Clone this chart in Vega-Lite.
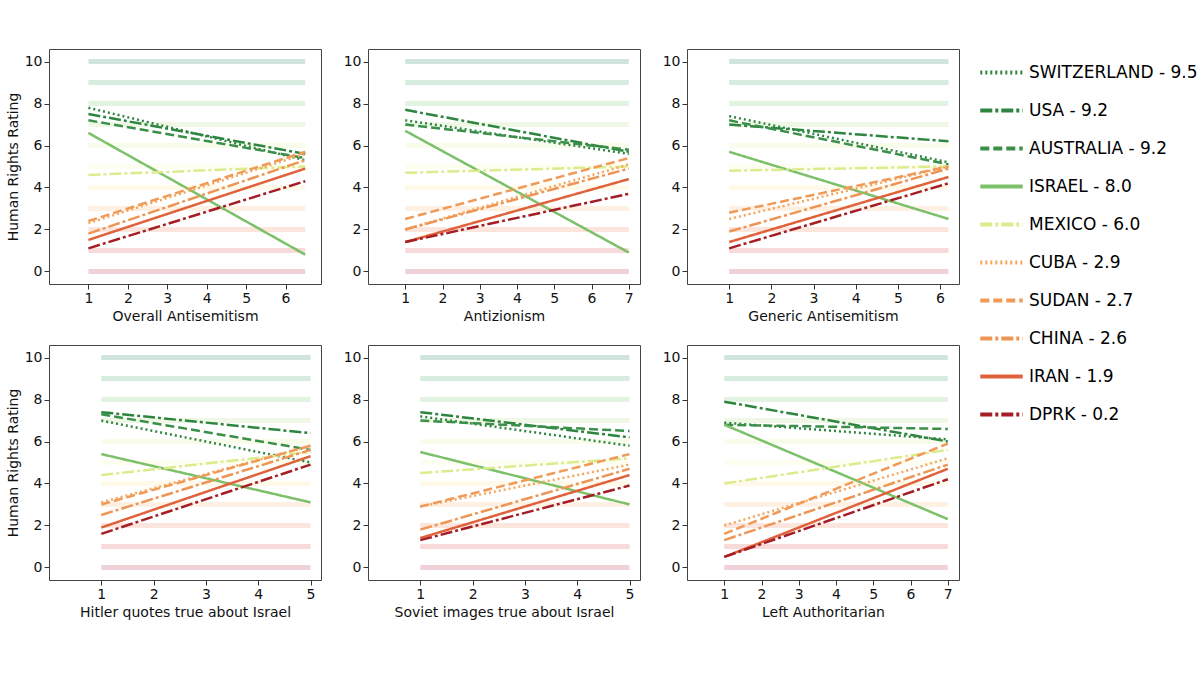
{
  "$schema": "https://vega.github.io/schema/vega-lite/v6.json",
  "background": "white",
  "padding": {"left": 5, "top": 48, "right": 5, "bottom": 5},
  "config": {
    "font": "DejaVu Sans",
    "view": {"stroke": "#444"},
    "axis": {"grid": false, "labelFontSize": 14, "titleFontSize": 14, "titleFontWeight": "normal", "labelColor": "#111", "titleColor": "#111", "domain": false, "tickColor": "#333"},
    "concat": {"spacing": 20},
    "legend": {"labelFontSize": 17, "symbolType": "stroke", "symbolSize": 1800, "symbolStrokeWidth": 4, "rowPadding": 6, "title": null, "orient": "right", "offset": 18, "padding": 0, "labelLimit": 300}
  },
  "resolve": {"scale": {"color": "shared", "strokeDash": "shared"}},
  "datasets": {
    "levels": [
      {"level": 0}, {"level": 1}, {"level": 2}, {"level": 3}, {"level": 4}, {"level": 5},
      {"level": 6}, {"level": 7}, {"level": 8}, {"level": 9}, {"level": 10}
    ],
    "lines": [
      {"panel": 1, "label": "SWITZERLAND - 9.5", "x": 1, "y": 7.8}, {"panel": 1, "label": "SWITZERLAND - 9.5", "x": 6.5, "y": 5.3},
      {"panel": 1, "label": "USA - 9.2", "x": 1, "y": 7.5}, {"panel": 1, "label": "USA - 9.2", "x": 6.5, "y": 5.6},
      {"panel": 1, "label": "AUSTRALIA - 9.2", "x": 1, "y": 7.2}, {"panel": 1, "label": "AUSTRALIA - 9.2", "x": 6.5, "y": 5.4},
      {"panel": 1, "label": "ISRAEL - 8.0", "x": 1, "y": 6.6}, {"panel": 1, "label": "ISRAEL - 8.0", "x": 6.5, "y": 0.8},
      {"panel": 1, "label": "MEXICO - 6.0", "x": 1, "y": 4.6}, {"panel": 1, "label": "MEXICO - 6.0", "x": 6.5, "y": 5.0},
      {"panel": 1, "label": "CUBA - 2.9", "x": 1, "y": 2.3}, {"panel": 1, "label": "CUBA - 2.9", "x": 6.5, "y": 5.6},
      {"panel": 1, "label": "SUDAN - 2.7", "x": 1, "y": 2.4}, {"panel": 1, "label": "SUDAN - 2.7", "x": 6.5, "y": 5.7},
      {"panel": 1, "label": "CHINA - 2.6", "x": 1, "y": 1.8}, {"panel": 1, "label": "CHINA - 2.6", "x": 6.5, "y": 5.3},
      {"panel": 1, "label": "IRAN - 1.9", "x": 1, "y": 1.5}, {"panel": 1, "label": "IRAN - 1.9", "x": 6.5, "y": 4.9},
      {"panel": 1, "label": "DPRK - 0.2", "x": 1, "y": 1.1}, {"panel": 1, "label": "DPRK - 0.2", "x": 6.5, "y": 4.3},

      {"panel": 2, "label": "SWITZERLAND - 9.5", "x": 1, "y": 7.2}, {"panel": 2, "label": "SWITZERLAND - 9.5", "x": 7, "y": 5.6},
      {"panel": 2, "label": "USA - 9.2", "x": 1, "y": 7.7}, {"panel": 2, "label": "USA - 9.2", "x": 7, "y": 5.7},
      {"panel": 2, "label": "AUSTRALIA - 9.2", "x": 1, "y": 7.0}, {"panel": 2, "label": "AUSTRALIA - 9.2", "x": 7, "y": 5.8},
      {"panel": 2, "label": "ISRAEL - 8.0", "x": 1, "y": 6.7}, {"panel": 2, "label": "ISRAEL - 8.0", "x": 7, "y": 0.9},
      {"panel": 2, "label": "MEXICO - 6.0", "x": 1, "y": 4.7}, {"panel": 2, "label": "MEXICO - 6.0", "x": 7, "y": 5.0},
      {"panel": 2, "label": "CUBA - 2.9", "x": 1, "y": 2.0}, {"panel": 2, "label": "CUBA - 2.9", "x": 7, "y": 5.1},
      {"panel": 2, "label": "SUDAN - 2.7", "x": 1, "y": 2.5}, {"panel": 2, "label": "SUDAN - 2.7", "x": 7, "y": 5.4},
      {"panel": 2, "label": "CHINA - 2.6", "x": 1, "y": 2.0}, {"panel": 2, "label": "CHINA - 2.6", "x": 7, "y": 4.9},
      {"panel": 2, "label": "IRAN - 1.9", "x": 1, "y": 1.4}, {"panel": 2, "label": "IRAN - 1.9", "x": 7, "y": 4.4},
      {"panel": 2, "label": "DPRK - 0.2", "x": 1, "y": 1.4}, {"panel": 2, "label": "DPRK - 0.2", "x": 7, "y": 3.7},

      {"panel": 3, "label": "SWITZERLAND - 9.5", "x": 1, "y": 7.4}, {"panel": 3, "label": "SWITZERLAND - 9.5", "x": 6.2, "y": 5.2},
      {"panel": 3, "label": "USA - 9.2", "x": 1, "y": 7.0}, {"panel": 3, "label": "USA - 9.2", "x": 6.2, "y": 6.2},
      {"panel": 3, "label": "AUSTRALIA - 9.2", "x": 1, "y": 7.2}, {"panel": 3, "label": "AUSTRALIA - 9.2", "x": 6.2, "y": 5.1},
      {"panel": 3, "label": "ISRAEL - 8.0", "x": 1, "y": 5.7}, {"panel": 3, "label": "ISRAEL - 8.0", "x": 6.2, "y": 2.5},
      {"panel": 3, "label": "MEXICO - 6.0", "x": 1, "y": 4.8}, {"panel": 3, "label": "MEXICO - 6.0", "x": 6.2, "y": 5.0},
      {"panel": 3, "label": "CUBA - 2.9", "x": 1, "y": 2.5}, {"panel": 3, "label": "CUBA - 2.9", "x": 6.2, "y": 5.0},
      {"panel": 3, "label": "SUDAN - 2.7", "x": 1, "y": 2.8}, {"panel": 3, "label": "SUDAN - 2.7", "x": 6.2, "y": 5.0},
      {"panel": 3, "label": "CHINA - 2.6", "x": 1, "y": 1.9}, {"panel": 3, "label": "CHINA - 2.6", "x": 6.2, "y": 4.9},
      {"panel": 3, "label": "IRAN - 1.9", "x": 1, "y": 1.4}, {"panel": 3, "label": "IRAN - 1.9", "x": 6.2, "y": 4.5},
      {"panel": 3, "label": "DPRK - 0.2", "x": 1, "y": 1.1}, {"panel": 3, "label": "DPRK - 0.2", "x": 6.2, "y": 4.2},

      {"panel": 4, "label": "SWITZERLAND - 9.5", "x": 1, "y": 7.0}, {"panel": 4, "label": "SWITZERLAND - 9.5", "x": 5, "y": 5.0},
      {"panel": 4, "label": "USA - 9.2", "x": 1, "y": 7.4}, {"panel": 4, "label": "USA - 9.2", "x": 5, "y": 6.4},
      {"panel": 4, "label": "AUSTRALIA - 9.2", "x": 1, "y": 7.3}, {"panel": 4, "label": "AUSTRALIA - 9.2", "x": 5, "y": 5.6},
      {"panel": 4, "label": "ISRAEL - 8.0", "x": 1, "y": 5.4}, {"panel": 4, "label": "ISRAEL - 8.0", "x": 5, "y": 3.1},
      {"panel": 4, "label": "MEXICO - 6.0", "x": 1, "y": 4.4}, {"panel": 4, "label": "MEXICO - 6.0", "x": 5, "y": 5.5},
      {"panel": 4, "label": "CUBA - 2.9", "x": 1, "y": 3.1}, {"panel": 4, "label": "CUBA - 2.9", "x": 5, "y": 5.8},
      {"panel": 4, "label": "SUDAN - 2.7", "x": 1, "y": 3.0}, {"panel": 4, "label": "SUDAN - 2.7", "x": 5, "y": 5.8},
      {"panel": 4, "label": "CHINA - 2.6", "x": 1, "y": 2.5}, {"panel": 4, "label": "CHINA - 2.6", "x": 5, "y": 5.6},
      {"panel": 4, "label": "IRAN - 1.9", "x": 1, "y": 1.9}, {"panel": 4, "label": "IRAN - 1.9", "x": 5, "y": 5.3},
      {"panel": 4, "label": "DPRK - 0.2", "x": 1, "y": 1.6}, {"panel": 4, "label": "DPRK - 0.2", "x": 5, "y": 4.9},

      {"panel": 5, "label": "SWITZERLAND - 9.5", "x": 1, "y": 7.2}, {"panel": 5, "label": "SWITZERLAND - 9.5", "x": 5, "y": 5.8},
      {"panel": 5, "label": "USA - 9.2", "x": 1, "y": 7.4}, {"panel": 5, "label": "USA - 9.2", "x": 5, "y": 6.2},
      {"panel": 5, "label": "AUSTRALIA - 9.2", "x": 1, "y": 7.0}, {"panel": 5, "label": "AUSTRALIA - 9.2", "x": 5, "y": 6.5},
      {"panel": 5, "label": "ISRAEL - 8.0", "x": 1, "y": 5.5}, {"panel": 5, "label": "ISRAEL - 8.0", "x": 5, "y": 3.0},
      {"panel": 5, "label": "MEXICO - 6.0", "x": 1, "y": 4.5}, {"panel": 5, "label": "MEXICO - 6.0", "x": 5, "y": 5.2},
      {"panel": 5, "label": "CUBA - 2.9", "x": 1, "y": 2.9}, {"panel": 5, "label": "CUBA - 2.9", "x": 5, "y": 4.9},
      {"panel": 5, "label": "SUDAN - 2.7", "x": 1, "y": 2.9}, {"panel": 5, "label": "SUDAN - 2.7", "x": 5, "y": 5.4},
      {"panel": 5, "label": "CHINA - 2.6", "x": 1, "y": 1.8}, {"panel": 5, "label": "CHINA - 2.6", "x": 5, "y": 4.7},
      {"panel": 5, "label": "IRAN - 1.9", "x": 1, "y": 1.4}, {"panel": 5, "label": "IRAN - 1.9", "x": 5, "y": 4.4},
      {"panel": 5, "label": "DPRK - 0.2", "x": 1, "y": 1.3}, {"panel": 5, "label": "DPRK - 0.2", "x": 5, "y": 3.9},

      {"panel": 6, "label": "SWITZERLAND - 9.5", "x": 1, "y": 6.9}, {"panel": 6, "label": "SWITZERLAND - 9.5", "x": 7, "y": 6.1},
      {"panel": 6, "label": "USA - 9.2", "x": 1, "y": 7.9}, {"panel": 6, "label": "USA - 9.2", "x": 7, "y": 6.0},
      {"panel": 6, "label": "AUSTRALIA - 9.2", "x": 1, "y": 6.8}, {"panel": 6, "label": "AUSTRALIA - 9.2", "x": 7, "y": 6.6},
      {"panel": 6, "label": "ISRAEL - 8.0", "x": 1, "y": 6.8}, {"panel": 6, "label": "ISRAEL - 8.0", "x": 7, "y": 2.3},
      {"panel": 6, "label": "MEXICO - 6.0", "x": 1, "y": 4.0}, {"panel": 6, "label": "MEXICO - 6.0", "x": 7, "y": 5.6},
      {"panel": 6, "label": "CUBA - 2.9", "x": 1, "y": 2.0}, {"panel": 6, "label": "CUBA - 2.9", "x": 7, "y": 5.2},
      {"panel": 6, "label": "SUDAN - 2.7", "x": 1, "y": 1.6}, {"panel": 6, "label": "SUDAN - 2.7", "x": 7, "y": 5.9},
      {"panel": 6, "label": "CHINA - 2.6", "x": 1, "y": 1.3}, {"panel": 6, "label": "CHINA - 2.6", "x": 7, "y": 4.9},
      {"panel": 6, "label": "IRAN - 1.9", "x": 1, "y": 0.5}, {"panel": 6, "label": "IRAN - 1.9", "x": 7, "y": 4.7},
      {"panel": 6, "label": "DPRK - 0.2", "x": 1, "y": 0.5}, {"panel": 6, "label": "DPRK - 0.2", "x": 7, "y": 4.2}
    ]
  },
  "vconcat": [
    {
      "hconcat": [
        {
          "width": 272, "height": 235,
          "layer": [
            {"data": {"name": "levels"}, "mark": {"type": "rule", "strokeWidth": 5, "opacity": 0.18},
             "encoding": {"y": {"field": "level", "type": "quantitative", "scale": {"domain": [-0.6, 10.6], "nice": false}}, "x": {"datum": 1}, "x2": {"datum": 6.5},
              "stroke": {"field": "level", "type": "quantitative", "scale": {"scheme": "redyellowgreen"}, "legend": null}}},
            {"data": {"name": "lines"}, "transform": [{"filter": "datum.panel == 1"}], "mark": {"type": "line", "strokeWidth": 2.5},
             "encoding": {
              "x": {"field": "x", "type": "quantitative", "title": "Overall Antisemitism", "scale": {"domain": [0.6, 6.9], "nice": false}, "axis": {"values": [1, 2, 3, 4, 5, 6]}},
              "y": {"field": "y", "type": "quantitative", "title": "Human Rights Rating", "axis": {"values": [0, 2, 4, 6, 8, 10]}},
              "color": {"field": "label", "type": "nominal", "scale": {"domain": ["SWITZERLAND - 9.5", "USA - 9.2", "AUSTRALIA - 9.2", "ISRAEL - 8.0", "MEXICO - 6.0", "CUBA - 2.9", "SUDAN - 2.7", "CHINA - 2.6", "IRAN - 1.9", "DPRK - 0.2"], "range": ["#2e8540", "#2e8540", "#3a9048", "#7cc06a", "#dcec8c", "#f4a65c", "#f09a58", "#ee9555", "#e0623c", "#a51d25"]}},
              "strokeDash": {"field": "label", "type": "nominal", "scale": {"domain": ["SWITZERLAND - 9.5", "USA - 9.2", "AUSTRALIA - 9.2", "ISRAEL - 8.0", "MEXICO - 6.0", "CUBA - 2.9", "SUDAN - 2.7", "CHINA - 2.6", "IRAN - 1.9", "DPRK - 0.2"], "range": [[2, 3], [12, 3, 3, 3], [9, 4], [1, 0], [12, 3, 3, 3], [2, 3], [9, 4], [12, 3, 3, 3], [1, 0], [12, 3, 3, 3]]}}
             }}
          ]
        },
        {
          "width": 272, "height": 235,
          "layer": [
            {"data": {"name": "levels"}, "mark": {"type": "rule", "strokeWidth": 5, "opacity": 0.18},
             "encoding": {"y": {"field": "level", "type": "quantitative", "scale": {"domain": [-0.6, 10.6], "nice": false}}, "x": {"datum": 1}, "x2": {"datum": 7},
              "stroke": {"field": "level", "type": "quantitative", "scale": {"scheme": "redyellowgreen"}, "legend": null}}},
            {"data": {"name": "lines"}, "transform": [{"filter": "datum.panel == 2"}], "mark": {"type": "line", "strokeWidth": 2.5},
             "encoding": {
              "x": {"field": "x", "type": "quantitative", "title": "Antizionism", "scale": {"domain": [0.7, 7.3], "nice": false}, "axis": {"values": [1, 2, 3, 4, 5, 6, 7]}},
              "y": {"field": "y", "type": "quantitative", "title": null, "axis": {"values": [0, 2, 4, 6, 8, 10]}},
              "color": {"field": "label", "type": "nominal"},
              "strokeDash": {"field": "label", "type": "nominal"}
             }}
          ]
        },
        {
          "width": 272, "height": 235,
          "layer": [
            {"data": {"name": "levels"}, "mark": {"type": "rule", "strokeWidth": 5, "opacity": 0.18},
             "encoding": {"y": {"field": "level", "type": "quantitative", "scale": {"domain": [-0.6, 10.6], "nice": false}}, "x": {"datum": 1}, "x2": {"datum": 6.2},
              "stroke": {"field": "level", "type": "quantitative", "scale": {"scheme": "redyellowgreen"}, "legend": null}}},
            {"data": {"name": "lines"}, "transform": [{"filter": "datum.panel == 3"}], "mark": {"type": "line", "strokeWidth": 2.5},
             "encoding": {
              "x": {"field": "x", "type": "quantitative", "title": "Generic Antisemitism", "scale": {"domain": [0.75, 6.45], "nice": false}, "axis": {"values": [1, 2, 3, 4, 5, 6]}},
              "y": {"field": "y", "type": "quantitative", "title": null, "axis": {"values": [0, 2, 4, 6, 8, 10]}},
              "color": {"field": "label", "type": "nominal"},
              "strokeDash": {"field": "label", "type": "nominal"}
             }}
          ]
        }
      ]
    },
    {
      "hconcat": [
        {
          "width": 272, "height": 235,
          "layer": [
            {"data": {"name": "levels"}, "mark": {"type": "rule", "strokeWidth": 5, "opacity": 0.18},
             "encoding": {"y": {"field": "level", "type": "quantitative", "scale": {"domain": [-0.6, 10.6], "nice": false}}, "x": {"datum": 1}, "x2": {"datum": 5},
              "stroke": {"field": "level", "type": "quantitative", "scale": {"scheme": "redyellowgreen"}, "legend": null}}},
            {"data": {"name": "lines"}, "transform": [{"filter": "datum.panel == 4"}], "mark": {"type": "line", "strokeWidth": 2.5},
             "encoding": {
              "x": {"field": "x", "type": "quantitative", "title": "Hitler quotes true about Israel", "scale": {"domain": [0.8, 5.2], "nice": false}, "axis": {"values": [1, 2, 3, 4, 5]}},
              "y": {"field": "y", "type": "quantitative", "title": "Human Rights Rating", "axis": {"values": [0, 2, 4, 6, 8, 10]}},
              "color": {"field": "label", "type": "nominal"},
              "strokeDash": {"field": "label", "type": "nominal"}
             }}
          ]
        },
        {
          "width": 272, "height": 235,
          "layer": [
            {"data": {"name": "levels"}, "mark": {"type": "rule", "strokeWidth": 5, "opacity": 0.18},
             "encoding": {"y": {"field": "level", "type": "quantitative", "scale": {"domain": [-0.6, 10.6], "nice": false}}, "x": {"datum": 1}, "x2": {"datum": 5},
              "stroke": {"field": "level", "type": "quantitative", "scale": {"scheme": "redyellowgreen"}, "legend": null}}},
            {"data": {"name": "lines"}, "transform": [{"filter": "datum.panel == 5"}], "mark": {"type": "line", "strokeWidth": 2.5},
             "encoding": {
              "x": {"field": "x", "type": "quantitative", "title": "Soviet images true about Israel", "scale": {"domain": [0.8, 5.2], "nice": false}, "axis": {"values": [1, 2, 3, 4, 5]}},
              "y": {"field": "y", "type": "quantitative", "title": null, "axis": {"values": [0, 2, 4, 6, 8, 10]}},
              "color": {"field": "label", "type": "nominal"},
              "strokeDash": {"field": "label", "type": "nominal"}
             }}
          ]
        },
        {
          "width": 272, "height": 235,
          "layer": [
            {"data": {"name": "levels"}, "mark": {"type": "rule", "strokeWidth": 5, "opacity": 0.18},
             "encoding": {"y": {"field": "level", "type": "quantitative", "scale": {"domain": [-0.6, 10.6], "nice": false}}, "x": {"datum": 1}, "x2": {"datum": 7},
              "stroke": {"field": "level", "type": "quantitative", "scale": {"scheme": "redyellowgreen"}, "legend": null}}},
            {"data": {"name": "lines"}, "transform": [{"filter": "datum.panel == 6"}], "mark": {"type": "line", "strokeWidth": 2.5},
             "encoding": {
              "x": {"field": "x", "type": "quantitative", "title": "Left Authoritarian", "scale": {"domain": [0.7, 7.3], "nice": false}, "axis": {"values": [1, 2, 3, 4, 5, 6, 7]}},
              "y": {"field": "y", "type": "quantitative", "title": null, "axis": {"values": [0, 2, 4, 6, 8, 10]}},
              "color": {"field": "label", "type": "nominal"},
              "strokeDash": {"field": "label", "type": "nominal"}
             }}
          ]
        }
      ]
    }
  ]
}
